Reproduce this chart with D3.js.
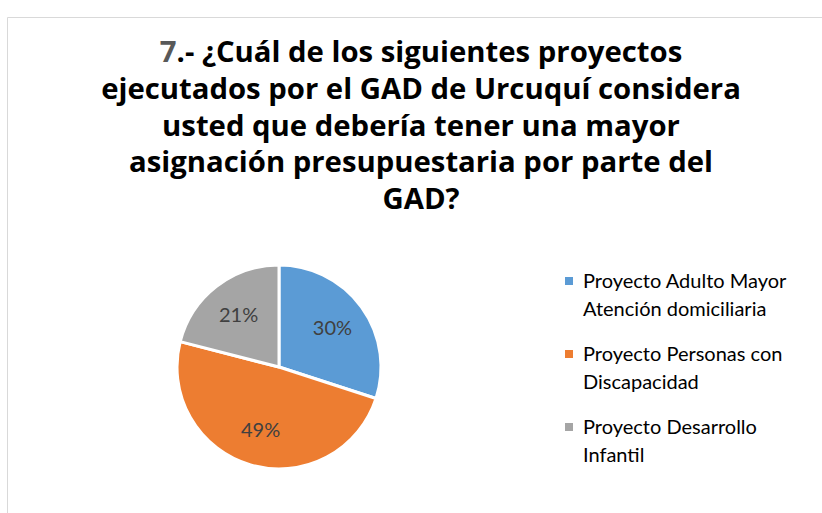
<!DOCTYPE html>
<html><head><meta charset="utf-8">
<script src="https://cdn.jsdelivr.net/npm/d3@7"></script>
<style>html,body{margin:0;padding:0;background:#fff;}svg{display:block;}</style>
</head><body>
<svg id="c" width="822" height="513"></svg>
<script>
const categories = [
  ["Proyecto Adulto Mayor", "Atención domiciliaria"],
  ["Proyecto Personas con", "Discapacidad"],
  ["Proyecto Desarrollo", "Infantil"]
];
const values = [30, 49, 21];
const colors = ["#5B9BD5", "#ED7D31", "#A5A5A5"];
const titleLines = [
  "¿Cuál de los siguientes proyectos",
  "ejecutados por el GAD de Urcuquí considera",
  "usted que debería tener una mayor",
  "asignación presupuestaria por parte del",
  "GAD?"
];
const titleNumber = "7";

const svg = d3.select("#c");
// border
svg.append("path").attr("d", "M7.5,513 L7.5,17.5 L822,17.5")
  .attr("fill", "none").attr("stroke", "#d9d9d9").attr("stroke-width", 1);

// title
const tFont = "'Open Sans', sans-serif";
const title = svg.append("g");
const cx = 421, base0 = 62, lh = 36.75;
let fs = 27;
// fit font size to widest line width
const probe = title.append("text").attr("font-family", tFont).attr("font-weight", 700)
  .attr("font-size", 100).text(titleLines[1]);
const w100 = probe.node().getComputedTextLength();
probe.remove();
fs = 100 * 640 / w100;
titleLines.forEach((ln, i) => {
  const t = title.append("text").attr("x", cx).attr("y", base0 + i * lh)
    .attr("text-anchor", "middle").attr("font-family", tFont).attr("font-weight", 700)
    .attr("font-size", fs).attr("fill", "#000");
  if (i === 0) {
    t.append("tspan").attr("fill", "#595959").text(titleNumber);
    t.append("tspan").text(".- " + ln);
  } else t.text(ln);
});

// pie
const r = 102;
const g = svg.append("g").attr("transform", "translate(279,367)");
const pie = d3.pie().sort(null).value(d => d)(values);
const arc = d3.arc().innerRadius(0).outerRadius(r);
const labelArc = d3.arc().innerRadius(132 * 0.5).outerRadius(132 * 0.5);
g.selectAll("path").data(pie).join("path")
  .attr("d", arc).attr("fill", (d, i) => colors[i])
  .attr("stroke", "#fff").attr("stroke-width", 3).attr("stroke-linejoin", "round");
g.selectAll("text").data(pie).join("text")
  .attr("transform", d => `translate(${labelArc.centroid(d)})`)
  .attr("text-anchor", "middle").attr("dy", "0.35em")
  .attr("font-family", "Lato, sans-serif").attr("font-size", 20).attr("fill", "#404040")
  .text(d => d.data + "%");

// legend
const lg = svg.append("g").attr("transform", "translate(565,0)");
const itemY = [281, 354, 427];
categories.forEach((lines, i) => {
  lg.append("rect").attr("x", 0).attr("y", itemY[i] - 4).attr("width", 8).attr("height", 8)
    .attr("fill", colors[i]);
  lines.forEach((ln, j) => {
    lg.append("text").attr("x", 18).attr("y", itemY[i] + j * 28).attr("dy", "0.35em")
      .attr("font-family", "Lato, sans-serif").attr("font-size", 20).attr("fill", "#000")
      .text(ln);
  });
});
</script>
</body></html>
